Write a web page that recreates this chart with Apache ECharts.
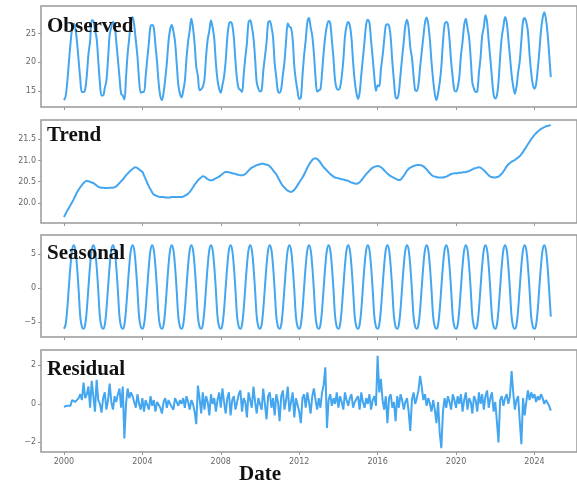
<!DOCTYPE html>
<html>
<head>
<meta charset="utf-8">
<script src="https://cdn.jsdelivr.net/npm/echarts@6.0.0/dist/echarts.min.js"></script>
<style>
  html, body { margin: 0; padding: 0; background: #fff; }
  #chart { width: 577px; height: 485px; }
</style>
</head>
<body>
<div id="chart"></div>
<script>
// monthly series, 2000-01 .. 2024-11
const observed = [
  13.4, 14.0, 16.4, 19.9, 23.2, 25.8, 26.7, 25.9, 23.5, 20.3, 17.0, 14.8,
  14.8, 15.3, 17.7, 21.4, 23.6, 27.3, 27.2, 25.6, 24.2, 20.3, 16.5, 14.2,
  14.2, 15.5, 16.8, 20.6, 24.8, 26.1, 27.0, 26.6, 23.7, 20.6, 17.4, 14.5,
  14.2, 13.5, 17.4, 21.5, 24.3, 27.0, 27.9, 26.5, 23.8, 21.0, 16.9, 14.7,
  14.8, 14.8, 17.5, 20.6, 23.4, 26.3, 26.5, 26.0, 23.0, 20.0, 16.3, 14.1,
  13.4, 14.7, 17.1, 19.9, 23.6, 25.7, 26.5, 25.4, 23.6, 19.9, 16.1, 14.5,
  13.9, 15.0, 16.7, 20.6, 23.6, 25.6, 27.6, 26.0, 23.2, 19.2, 17.6, 15.1,
  15.3, 15.7, 17.0, 21.0, 24.0, 25.5, 27.3, 26.1, 24.1, 19.9, 16.9, 15.4,
  14.7, 16.0, 17.5, 20.2, 24.3, 26.6, 27.0, 26.5, 24.3, 20.1, 16.9, 15.4,
  15.2, 14.8, 17.7, 20.8, 23.3, 27.0, 27.3, 26.2, 24.3, 20.7, 16.5, 15.4,
  14.9, 15.1, 18.4, 20.9, 23.4, 26.9, 27.2, 26.2, 24.3, 19.8, 17.3, 14.9,
  14.7, 15.4, 17.8, 20.1, 23.8, 26.8, 26.2, 26.0, 24.1, 19.3, 16.8, 15.0,
  13.6, 13.8, 17.6, 21.2, 23.9, 27.0, 27.7, 26.1, 24.6, 21.5, 17.4, 14.9,
  15.1, 15.3, 18.2, 21.8, 24.6, 26.4, 27.2, 26.8, 23.8, 20.6, 16.7, 15.4,
  15.2, 15.6, 17.4, 20.3, 24.4, 26.3, 27.0, 26.4, 24.2, 20.0, 16.7, 14.7,
  13.6, 14.7, 17.8, 20.7, 23.7, 26.6, 27.4, 26.9, 23.7, 20.7, 17.4, 15.0,
  16.0, 15.8, 18.8, 21.0, 23.8, 26.4, 26.6, 26.3, 24.3, 20.1, 16.8, 13.9,
  13.7, 14.8, 17.8, 20.8, 23.6, 26.4, 27.4, 26.0, 22.6, 20.8, 17.6, 15.1,
  15.0, 16.1, 19.1, 21.8, 24.4, 26.9, 27.8, 26.6, 23.9, 20.0, 16.9, 14.5,
  13.4, 14.6, 16.4, 19.2, 23.5, 26.5, 27.0, 26.6, 24.0, 20.1, 17.3, 15.1,
  14.9, 15.6, 17.4, 21.2, 23.6, 26.5, 27.6, 26.0, 24.3, 20.6, 16.4, 15.4,
  14.8, 14.9, 18.1, 20.8, 24.6, 26.1, 28.2, 27.0, 23.7, 20.6, 17.3, 14.4,
  13.7, 14.2, 16.6, 20.9, 24.4, 26.2, 27.9, 27.0, 24.1, 21.0, 17.9, 15.8,
  14.5, 15.7, 18.2, 20.2, 23.8, 27.1, 27.7, 27.0, 25.3, 21.3, 18.2, 16.1,
  15.4, 16.2, 18.8, 21.9, 25.5, 27.7, 28.7, 27.6, 25.1, 21.4, 17.4
];

const trend = [
  19.67, 19.74, 19.82, 19.88, 19.95, 20.02, 20.09, 20.17, 20.25, 20.31, 20.37, 20.42,
  20.47, 20.50, 20.52, 20.51, 20.50, 20.48, 20.47, 20.44, 20.41, 20.38, 20.37, 20.36,
  20.36, 20.35, 20.35, 20.35, 20.36, 20.36, 20.36, 20.37, 20.39, 20.43, 20.47, 20.51,
  20.55, 20.60, 20.65, 20.69, 20.73, 20.77, 20.80, 20.83, 20.84, 20.82, 20.79, 20.76,
  20.73, 20.65, 20.56, 20.47, 20.39, 20.32, 20.25, 20.20, 20.18, 20.16, 20.15, 20.14,
  20.14, 20.14, 20.13, 20.13, 20.13, 20.13, 20.14, 20.14, 20.14, 20.14, 20.14, 20.14,
  20.14, 20.15, 20.17, 20.19, 20.22, 20.26, 20.31, 20.37, 20.43, 20.48, 20.53, 20.57,
  20.60, 20.63, 20.62, 20.59, 20.56, 20.54, 20.53, 20.54, 20.56, 20.58, 20.60, 20.62,
  20.65, 20.68, 20.71, 20.73, 20.73, 20.72, 20.71, 20.70, 20.69, 20.68, 20.67, 20.66,
  20.65, 20.65, 20.66, 20.68, 20.72, 20.76, 20.80, 20.83, 20.85, 20.87, 20.89, 20.90,
  20.91, 20.92, 20.92, 20.91, 20.90, 20.89, 20.86, 20.82, 20.77, 20.72, 20.67, 20.60,
  20.53, 20.46, 20.40, 20.36, 20.32, 20.29, 20.27, 20.26, 20.28, 20.31, 20.36, 20.42,
  20.48, 20.54, 20.60, 20.67, 20.75, 20.83, 20.90, 20.96, 21.01, 21.04, 21.05, 21.03,
  21.00, 20.95, 20.89, 20.84, 20.80, 20.76, 20.72, 20.68, 20.65, 20.62, 20.60, 20.59,
  20.58, 20.57, 20.56, 20.55, 20.54, 20.53, 20.52, 20.50, 20.48, 20.47, 20.46, 20.45,
  20.46, 20.49, 20.53, 20.58, 20.63, 20.68, 20.72, 20.76, 20.80, 20.83, 20.85, 20.86,
  20.87, 20.86, 20.84, 20.81, 20.77, 20.73, 20.69, 20.66, 20.63, 20.61, 20.59, 20.57,
  20.55, 20.54, 20.55, 20.59, 20.64, 20.70, 20.76, 20.80, 20.83, 20.85, 20.87, 20.88,
  20.89, 20.89, 20.89, 20.88, 20.86, 20.83, 20.79, 20.74, 20.70, 20.66, 20.63, 20.62,
  20.61, 20.60, 20.60, 20.60, 20.60, 20.61, 20.62, 20.64, 20.66, 20.68, 20.69, 20.70,
  20.70, 20.70, 20.71, 20.71, 20.72, 20.72, 20.73, 20.74, 20.75, 20.77, 20.79, 20.81,
  20.82, 20.83, 20.84, 20.83, 20.80, 20.77, 20.73, 20.69, 20.65, 20.62, 20.61, 20.60,
  20.60, 20.61, 20.62, 20.65, 20.69, 20.74, 20.80, 20.86, 20.91, 20.94, 20.97, 20.99,
  21.01, 21.04, 21.07, 21.10, 21.15, 21.20, 21.26, 21.32, 21.38, 21.44, 21.50, 21.55,
  21.60, 21.64, 21.68, 21.71, 21.74, 21.76, 21.78, 21.80, 21.81, 21.82, 21.83
];

const seasonal = [
  -6.0, -5.4, -3.2, 0.1, 3.3, 5.6, 6.3, 5.6, 3.2, -0.3, -4.2, -5.7,
  -6.0, -5.4, -3.2, 0.1, 3.3, 5.6, 6.3, 5.6, 3.2, -0.3, -4.2, -5.7,
  -6.0, -5.4, -3.2, 0.1, 3.3, 5.6, 6.3, 5.6, 3.2, -0.3, -4.2, -5.7,
  -6.0, -5.4, -3.2, 0.1, 3.3, 5.6, 6.3, 5.6, 3.2, -0.3, -4.2, -5.7,
  -6.0, -5.4, -3.2, 0.1, 3.3, 5.6, 6.3, 5.6, 3.2, -0.3, -4.2, -5.7,
  -6.0, -5.4, -3.2, 0.1, 3.3, 5.6, 6.3, 5.6, 3.2, -0.3, -4.2, -5.7,
  -6.0, -5.4, -3.2, 0.1, 3.3, 5.6, 6.3, 5.6, 3.2, -0.3, -4.2, -5.7,
  -6.0, -5.4, -3.2, 0.1, 3.3, 5.6, 6.3, 5.6, 3.2, -0.3, -4.2, -5.7,
  -6.0, -5.4, -3.2, 0.1, 3.3, 5.6, 6.3, 5.6, 3.2, -0.3, -4.2, -5.7,
  -6.0, -5.4, -3.2, 0.1, 3.3, 5.6, 6.3, 5.6, 3.2, -0.3, -4.2, -5.7,
  -6.0, -5.4, -3.2, 0.1, 3.3, 5.6, 6.3, 5.6, 3.2, -0.3, -4.2, -5.7,
  -6.0, -5.4, -3.2, 0.1, 3.3, 5.6, 6.3, 5.6, 3.2, -0.3, -4.2, -5.7,
  -6.0, -5.4, -3.2, 0.1, 3.3, 5.6, 6.3, 5.6, 3.2, -0.3, -4.2, -5.7,
  -6.0, -5.4, -3.2, 0.1, 3.3, 5.6, 6.3, 5.6, 3.2, -0.3, -4.2, -5.7,
  -6.0, -5.4, -3.2, 0.1, 3.3, 5.6, 6.3, 5.6, 3.2, -0.3, -4.2, -5.7,
  -6.0, -5.4, -3.2, 0.1, 3.3, 5.6, 6.3, 5.6, 3.2, -0.3, -4.2, -5.7,
  -6.0, -5.4, -3.2, 0.1, 3.3, 5.6, 6.3, 5.6, 3.2, -0.3, -4.2, -5.7,
  -6.0, -5.4, -3.2, 0.1, 3.3, 5.6, 6.3, 5.6, 3.2, -0.3, -4.2, -5.7,
  -6.0, -5.4, -3.2, 0.1, 3.3, 5.6, 6.3, 5.6, 3.2, -0.3, -4.2, -5.7,
  -6.0, -5.4, -3.2, 0.1, 3.3, 5.6, 6.3, 5.6, 3.2, -0.3, -4.2, -5.7,
  -6.0, -5.4, -3.2, 0.1, 3.3, 5.6, 6.3, 5.6, 3.2, -0.3, -4.2, -5.7,
  -6.0, -5.4, -3.2, 0.1, 3.3, 5.6, 6.3, 5.6, 3.2, -0.3, -4.2, -5.7,
  -6.0, -5.4, -3.2, 0.1, 3.3, 5.6, 6.3, 5.6, 3.2, -0.3, -4.2, -5.7,
  -6.0, -5.4, -3.2, 0.1, 3.3, 5.6, 6.3, 5.6, 3.2, -0.3, -4.2, -5.7,
  -6.0, -5.4, -3.2, 0.1, 3.3, 5.6, 6.3, 5.6, 3.2, -0.3, -4.2
];

const residual = [
  -0.15, -0.2, -0.1, 0.0, -0.1, 0.2, 0.3, 0.1, 0.0, 0.3, 0.5, 0.2,
  1.1, 0.3, 0.5, 0.9, -0.2, 1.2, 0.4, -0.4, 1.25, 0.2, 0.0, -0.45,
  0.3, 0.6, -0.3, 0.2, 1.05, 0.1, -0.3, 0.4, 0.1, 0.5, 0.8, -0.2,
  0.9, -1.8, 0.0, 0.8, 0.3, 0.6, 0.4, 0.1, -0.2, 0.5, 0.0, -0.3,
  0.3, -0.4, 0.2, 0.1, -0.3, 0.4, -0.1, 0.2, -0.4, 0.1, 0.0, -0.2,
  -0.5, 0.1, 0.3, -0.2, 0.2, 0.0, 0.1, -0.3, 0.3, 0.1, -0.1, 0.2,
  0.0, 0.3, -0.2, 0.4, 0.1, -0.3, 0.2, 0.0, -0.4, -1.05, 0.95, 0.3,
  -0.5, 0.6, -0.3, 0.4, 0.1, -0.6, 0.5, 0.0, 0.3, -0.4, 0.2, 0.6,
  -0.2, 0.8, 0.1, -0.5, 0.3, 0.6, -0.6, 0.2, 0.4, -0.3, 0.1, 0.5,
  0.7, -0.4, 0.3, 0.1, -0.7, 0.6, 0.2, -0.2, 0.9, 0.1, -0.5, 0.3,
  0.2, -0.3, 0.8, 0.0, -0.8, 0.4, 0.6, -0.2, 0.3, -0.6, 0.5, 0.1,
  -0.9, 0.4, 0.7, -0.3, 0.2, 0.9, -0.4, 0.1, 0.6, -0.7, 0.3, 0.4,
  -0.4, -1.0, 0.3, 0.5, -0.2, 0.6, 0.1, -0.5, 0.4, 0.8, 0.2, -0.3,
  0.3, -0.2, 0.6, 1.0, 1.9, -1.25, 0.2, 0.5, -0.1, 0.3, 0.0, 0.6,
  -0.2, 0.4, 0.1, -0.3, 0.6, 0.2, -0.1, 0.3, 0.5, -0.2, 0.1, 0.0,
  0.4, -0.3, 0.6, 0.1, -0.2, 0.3, 0.0, 0.5, -0.3, 0.2, 0.4, -0.1,
  2.5, 0.6, 1.3, 0.2, -0.3, 0.4, -1.0, 0.3, 0.5, -0.2, 0.1, -0.9,
  0.4, -0.2, 0.5, 0.2, -0.3, 0.1, 0.3, -0.4, -1.4, 0.2, 0.6, 0.0,
  0.3, 0.7, 1.45, 0.9, 0.2, 0.5, -0.1, 0.3, 0.0, -0.4, 0.2, -0.3,
  -1.0, 0.1, -1.5, -2.3, -0.4, 0.3, -0.2, 0.4, 0.1, -0.3, 0.5, 0.2,
  -0.2, 0.4, 0.0, 0.5, -0.4, 0.2, 0.6, -0.3, 0.3, 0.1, -0.5, 0.4,
  0.2, -0.4, 0.6, 0.0, 0.5, -0.3, 0.4, 0.7, -0.2, 0.3, 0.6, -0.4,
  0.1, -0.9, -2.0, 0.2, 0.4, -0.1, 0.3, 0.5, 0.0, 0.4, 1.7, 0.6,
  -0.3, 0.2, 0.4, -0.9, -2.1, 0.3, -0.6, 0.1, 0.7, 0.2, 0.6, 0.3,
  0.5, 0.1, 0.4, 0.2, 0.5, 0.3, 0.0, 0.2, 0.1, -0.1, -0.35
];

const yearTicks = [2000, 2004, 2008, 2012, 2016, 2020, 2024];
const observedTicks = [15, 20, 25];
const trendTicks = [20.0, 20.5, 21.0, 21.5];
const seasonalTicks = [-5, 0, 5];
const residualTicks = [-2, 0, 2];

// decimal-year x position of each month
const dates = [];
for (let i = 0; i < observed.length; i++) dates.push(2000 + i / 12);

const panels = [
  { name: 'Observed', data: observed, ticks: observedTicks, min: 12.2, max: 29.8, top: 6, height: 101, dec: 0, ty: 27, smooth: 0.35 },
  { name: 'Trend', data: trend, ticks: trendTicks, min: 19.53, max: 21.95, top: 120, height: 103, dec: 1, ty: 136, smooth: 0.5 },
  { name: 'Seasonal', data: seasonal, ticks: seasonalTicks, min: -7.2, max: 7.8, top: 235, height: 102, dec: 0, ty: 254, smooth: 0.35 },
  { name: 'Residual', data: residual, ticks: residualTicks, min: -2.5, max: 2.8, top: 350, height: 102, dec: 0, ty: 370, smooth: false }
];

const fmt = (v, d) => {
  const s = Math.abs(v).toFixed(d);
  return v < 0 ? '\u2212' + s : s;
};

const gray = '#999';
const labelColor = '#666';

const option = {
  animation: false,
  grid: panels.map(p => ({
    left: 41, width: 539, top: p.top, height: p.height,
    show: true, borderColor: gray, borderWidth: 1.5, containLabel: false
  })),
  xAxis: panels.map((p, i) => ({
    type: 'value', gridIndex: i, min: 1998.83, max: 2026.17,
    axisLine: { show: false, onZero: false },
    splitLine: { show: false },
    axisTick: { show: true, customValues: yearTicks, length: 3, lineStyle: { color: gray, width: 1 } },
    axisLabel: {
      show: i === panels.length - 1, customValues: yearTicks,
      fontSize: 8, color: labelColor, margin: 6, fontFamily: 'DejaVu Sans',
      formatter: v => String(Math.round(v))
    }
  })),
  yAxis: panels.map((p, i) => ({
    type: 'value', gridIndex: i, min: p.min, max: p.max,
    axisLine: { show: false, onZero: false },
    splitLine: { show: false },
    axisTick: { show: true, customValues: p.ticks, length: 3, lineStyle: { color: gray, width: 1 } },
    axisLabel: {
      customValues: p.ticks, fontSize: 8, color: labelColor, margin: 5, fontFamily: 'DejaVu Sans',
      formatter: v => fmt(v, p.dec)
    }
  })),
  series: panels.map((p, i) => ({
    type: 'line', xAxisIndex: i, yAxisIndex: i,
    data: dates.map((d, k) => [d, p.data[k]]),
    showSymbol: false,
    smooth: p.smooth,
    lineStyle: { color: '#45a6f0', width: 2 },
    itemStyle: { color: '#45a6f0' },
    z: 2
  })),
  graphic: panels.map(p => ({
    type: 'text', left: 47, top: p.ty - 11, z: 100,
    style: { text: p.name, font: 'bold 21px "Liberation Serif"', fill: '#111' }
  })).concat([{
    type: 'text', left: 239, top: 464, z: 100,
    style: { text: 'Date', font: 'bold 21px "Liberation Serif"', fill: '#111' }
  }])
};

const chart = echarts.init(document.getElementById('chart'));
chart.setOption(option);
</script>
</body>
</html>
